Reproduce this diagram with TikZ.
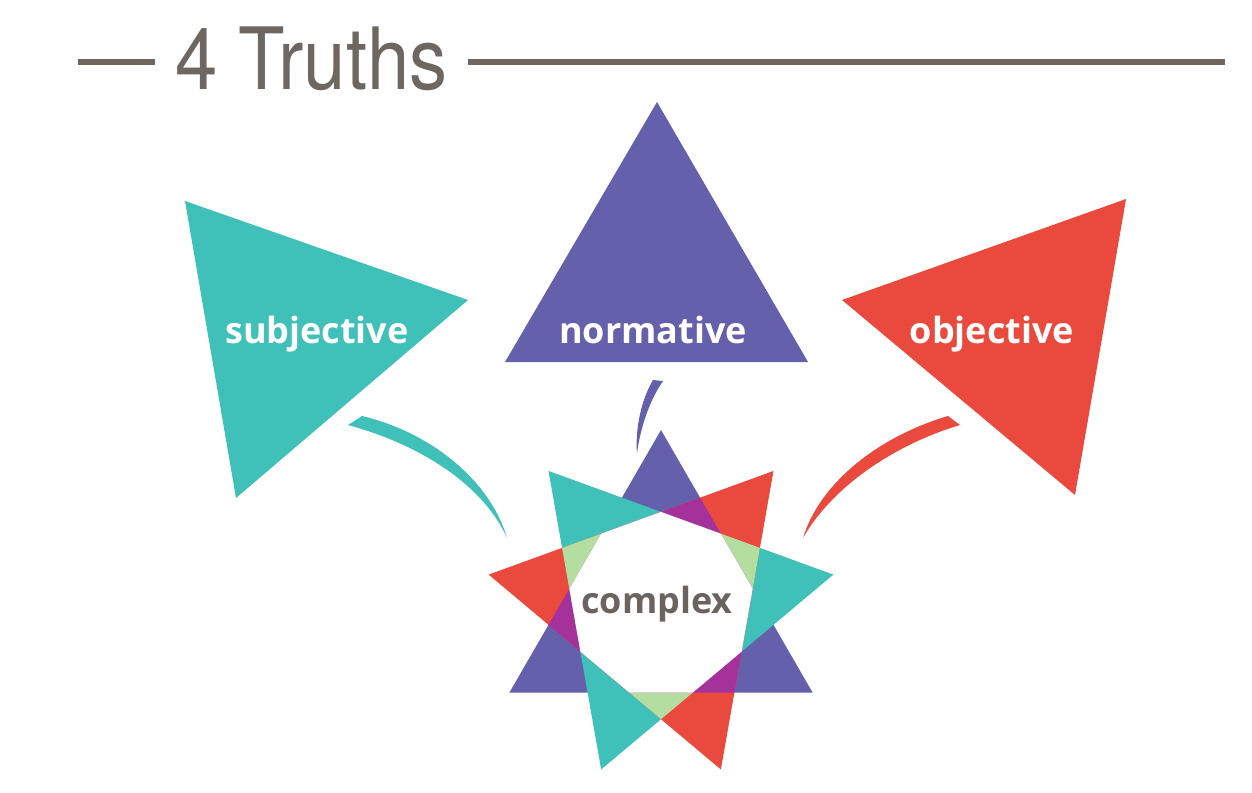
\documentclass[tikz,border=0pt]{standalone}
\usepackage{fontspec}
\setmainfont{Open Sans}
\newfontfamily\titlefont{TeX Gyre Heros}
\definecolor{tealc}{RGB}{63,193,186}
\definecolor{purplec}{RGB}{101,96,172}
\definecolor{redc}{RGB}{234,74,62}
\definecolor{magentac}{RGB}{165,50,155}
\definecolor{greenc}{RGB}{180,222,159}
\definecolor{titlegray}{RGB}{110,102,96}
\definecolor{labelgray}{RGB}{106,99,94}
\tikzset{
  titleline/.style={draw=titlegray, line width=3pt},
  biglabel/.style={anchor=base, inner sep=0pt, text=white, font=\fontsize{18}{18}\selectfont\bfseries},
}
\begin{document}
\begin{tikzpicture}[x=0.5pt,y=-0.5pt]
\useasboundingbox (0,0) rectangle (1252,792);
\fill[white] (0,0) rectangle (1252,792);

% title
\node[anchor=base west, inner sep=0pt, text=titlegray, font=\titlefont\fontsize{43}{43}\selectfont] (title) at (175,90) {\scalebox{0.885}[1]{4 Truths}};
\coordinate (la) at (78,62);
\coordinate (lb) at (155,62);
\coordinate (lc) at (468,62);
\coordinate (ld) at (1225,62);
\draw[titleline] (la) -- (lb);
\draw[titleline] (lc) -- (ld);

% big triangles
\fill[tealc] (185,201) -- (468,300) -- (236,498) -- cycle;
\fill[purplec] (657,102) -- (808,362) -- (505,362) -- cycle;
\fill[redc] (1126,199) -- (842,300) -- (1075,495) -- cycle;

\node[biglabel] (subj) at (317,343) {subjective};
\node[biglabel] (norm) at (653,343) {normative};
\node[biglabel] (obj) at (992,343) {objective};

% crescent arcs
\fill[tealc] (362,416) .. controls (430,432) and (490,480) .. (507,538)
  .. controls (485,488) and (425,446) .. (348,425) -- cycle;
\fill[purplec] (653,380) .. controls (641,400) and (635,430) .. (637,453)
  .. controls (641,425) and (650,400) .. (663,381) -- cycle;
\fill[redc] (948,416) .. controls (880,436) and (820,482) .. (803,538)
  .. controls (830,490) and (890,446) .. (960,425) -- cycle;

% star
\begin{scope}[shift={(661,605)}]
  \def\triP{(-90:175) -- (-210:175) -- (-330:175) -- cycle}
  \def\triT{(-130:175) -- (-250:175) -- (-10:175) -- cycle}
  \def\triR{(-50:175) -- (-170:175) -- (-290:175) -- cycle}
  \fill[purplec] \triP;
  \fill[tealc] \triT;
  \fill[redc] \triR;
  \begin{scope}
    \clip \triR;
    \fill[greenc] \triT;
  \end{scope}
  \begin{scope}
    \clip \triR;
    \fill[magentac] \triP;
  \end{scope}
  \begin{scope}
    \clip \triR;
    \clip \triT;
    \fill[white] \triP;
  \end{scope}
\end{scope}
\node[anchor=base, inner sep=0pt, text=labelgray, font=\fontsize{18}{18}\selectfont\bfseries] (cplx) at (657,613) {complex};
\end{tikzpicture}
\end{document}
